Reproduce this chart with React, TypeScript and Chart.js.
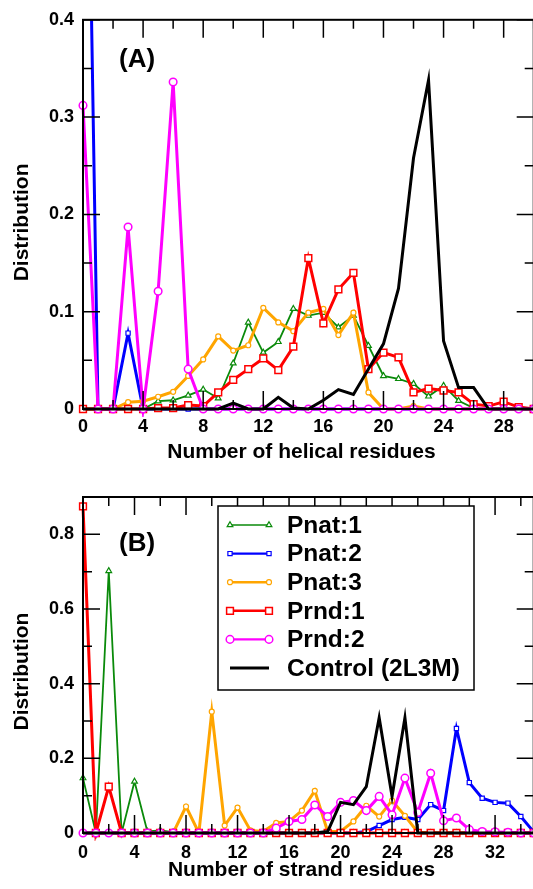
import React, { useEffect, useRef } from 'react';
import { Chart, registerables } from 'chart.js';

Chart.register(...registerables);

// ---------- data ----------
const helixResidues = [0, 1, 2, 3, 4, 5, 6, 7, 8, 9, 10, 11, 12, 13, 14, 15, 16, 17, 18, 19, 20, 21, 22, 23, 24, 25, 26, 27, 28, 29, 30];
const strandResidues = [0, 1, 2, 3, 4, 5, 6, 7, 8, 9, 10, 11, 12, 13, 14, 15, 16, 17, 18, 19, 20, 21, 22, 23, 24, 25, 26, 27, 28, 29, 30, 31, 32, 33, 34, 35];

const seriesNames = ['Pnat:1', 'Pnat:2', 'Pnat:3', 'Prnd:1', 'Prnd:2', 'Control (2L3M)'];

// Panel A: helical residues
const helixPnat1 = [0, 0, 0, 0, 0, 0.008, 0.009, 0.014, 0.020, 0.011, 0.047, 0.089, 0.058, 0.069, 0.103, 0.096, 0.099, 0.084, 0.096, 0.065, 0.034, 0.031, 0.026, 0.013, 0.024, 0.0085, 0.001, 0, 0, 0, 0];
const helixPnat2 = [0.93, 0, 0, 0.078, 0, 0, 0, 0, 0, 0, 0, 0, 0, 0, 0, 0, 0, 0, 0, 0, 0, 0, 0, 0, 0, 0, 0, 0, 0, 0, 0];
const helixPnat3 = [0, 0, 0, 0.007, 0.008, 0.0126, 0.0177, 0.034, 0.051, 0.0747, 0.060, 0.0655, 0.104, 0.089, 0.080, 0.099, 0.103, 0.076, 0.099, 0.017, 0, 0, 0.003, 0, 0, 0, 0, 0, 0, 0, 0];
const helixPrnd1 = [0, 0, 0, 0, 0, 0.001, 0.001, 0.004, 0.003, 0.017, 0.030, 0.041, 0.052, 0.040, 0.064, 0.155, 0.088, 0.123, 0.140, 0.041, 0.058, 0.053, 0.017, 0.021, 0.019, 0.017, 0.005, 0.003, 0.0075, 0.002, 0];
const helixPrnd2 = [0.312, 0, 0, 0.187, 0, 0.121, 0.336, 0.041, 0, 0, 0, 0, 0, 0, 0, 0, 0, 0, 0, 0, 0, 0, 0, 0, 0, 0, 0, 0, 0, 0, 0];
const helixControl = [0, 0, 0, 0, 0, 0, 0, 0, 0, 0, 0.006, 0, 0, 0.012, 0.001, 0, 0.009, 0.020, 0.015, 0.041, 0.067, 0.124, 0.258, 0.338, 0.070, 0.022, 0.022, 0, 0, 0, 0];

// Panel B: strand residues
const strandPnat1 = [0.147, 0, 0.702, 0, 0.138, 0.004, 0.007, 0.002, 0, 0, 0, 0, 0, 0, 0, 0, 0, 0, 0, 0, 0, 0, 0, 0, 0, 0, 0, 0, 0, 0, 0, 0, 0, 0, 0, 0];
const strandPnat2 = [0, 0, 0, 0, 0, 0, 0, 0, 0, 0, 0, 0, 0, 0, 0, 0, 0, 0, 0, 0, 0, 0, 0.004, 0.020, 0.036, 0.042, 0.036, 0.076, 0.060, 0.280, 0.135, 0.093, 0.082, 0.080, 0.044, 0.003];
const strandPnat3 = [0, 0, 0, 0, 0, 0, 0, 0, 0.071, 0, 0.325, 0.020, 0.068, 0.007, 0.004, 0.027, 0.031, 0.060, 0.113, 0.004, 0.004, 0.031, 0.073, 0.044, 0.087, 0.046, 0.002, 0, 0, 0, 0, 0, 0, 0, 0, 0];
const strandPrnd1 = [0.875, 0, 0.124, 0, 0, 0, 0, 0, 0, 0, 0, 0, 0, 0, 0, 0, 0, 0, 0, 0, 0, 0, 0, 0, 0, 0, 0, 0, 0, 0, 0, 0, 0, 0, 0, 0];
const strandPrnd2 = [0, 0, 0, 0, 0, 0, 0, 0, 0, 0, 0, 0, 0, 0, 0, 0.013, 0.031, 0.036, 0.075, 0.044, 0.082, 0.087, 0.060, 0.098, 0.049, 0.147, 0.055, 0.160, 0.033, 0.040, 0.009, 0.004, 0.003, 0.002, 0, 0];
const strandControl = [0, 0, 0, 0, 0, 0, 0, 0, 0, 0, 0, 0, 0, 0, 0, 0, 0, 0, 0, 0.004, 0.082, 0.076, 0.124, 0.309, 0.098, 0.309, 0, 0, 0, 0, 0, 0, 0, 0, 0, 0];

// ---------- styles ----------
const FONT = "'Liberation Sans', Arial, Helvetica, sans-serif";

type Style = { color: string; point: 'triangle' | 'rect' | 'circle' | false; radius: number; pointBorder: number; line: number; order: number };
const styles: Style[] = [
  { color: '#0a8a0a', point: 'triangle', radius: 3.3, pointBorder: 1.2, line: 1.8, order: 5 },
  { color: '#0000ff', point: 'rect', radius: 3.0, pointBorder: 1.2, line: 3, order: 4 },
  { color: '#ffa500', point: 'circle', radius: 2.5, pointBorder: 1.2, line: 3, order: 3 },
  { color: '#ff0000', point: 'rect', radius: 4.8, pointBorder: 1.5, line: 3, order: 2 },
  { color: '#ff00ff', point: 'circle', radius: 3.8, pointBorder: 1.5, line: 3, order: 1 },
  { color: '#000000', point: false, radius: 0, pointBorder: 0, line: 3, order: 0 },
];

type Panel = {
  xs: number[];
  series: number[][];
  canvasH: number;
  top: number;
  axisH: number;
  xMax: number;
  yMax: number;
  yStep: number;
  yMinor: number;
  xTitle: string;
  xTitleY: number;
  tickPad: number;
  label: string;
  labelBaseline: number;
  yTitleOffset: number;
  legend: boolean;
};

const CANVAS_W = 540;
const CHART_RIGHT_PAD = 2;
const X_TITLE_CENTER = 301.5;

const panelA: Panel = {
  xs: helixResidues,
  series: [helixPnat1, helixPnat2, helixPnat3, helixPrnd1, helixPrnd2, helixControl],
  canvasH: 470, top: 18, axisH: 61, xMax: 30, yMax: 0.4, yStep: 0.1, yMinor: 0.05,
  xTitle: 'Number of helical residues', xTitleY: 452.5, tickPad: 7,
  label: '(A)', labelBaseline: 66.5, yTitleOffset: 8, legend: false,
};
const panelB: Panel = {
  xs: strandResidues,
  series: [strandPnat1, strandPnat2, strandPnat3, strandPrnd1, strandPrnd2, strandControl],
  canvasH: 419, top: 27, axisH: 56, xMax: 35, yMax: 0.9, yStep: 0.2, yMinor: 0.1,
  xTitle: 'Number of strand residues', xTitleY: 400.5, tickPad: 9,
  label: '(B)', labelBaseline: 81, yTitleOffset: 6.5, legend: true,
};

function drawMarker(ctx: CanvasRenderingContext2D, style: Style, x: number, y: number) {
  if (!style.point) return;
  ctx.save();
  ctx.beginPath();
  const r = style.radius;
  if (style.point === 'circle') {
    ctx.arc(x, y, r, 0, Math.PI * 2);
  } else if (style.point === 'rect') {
    const s = Math.SQRT1_2 * r;
    ctx.rect(x - s, y - s, 2 * s, 2 * s);
  } else {
    ctx.moveTo(x, y - r);
    ctx.lineTo(x + r * 0.866, y + r * 0.5);
    ctx.lineTo(x - r * 0.866, y + r * 0.5);
    ctx.closePath();
  }
  ctx.fillStyle = '#ffffff';
  ctx.fill();
  ctx.lineWidth = style.pointBorder;
  ctx.strokeStyle = style.color;
  ctx.stroke();
  ctx.restore();
}

function makeDecor(p: Panel) {
  return {
    id: 'panelDecor',
    afterDatasetsDraw(chart: any) {
      const { ctx, chartArea } = chart;
      const { left, right, top, bottom } = chartArea;
      const xs = chart.scales.x;
      const ys = chart.scales.y;
      ctx.save();
      ctx.strokeStyle = '#000';
      ctx.lineWidth = 1.5;
      ctx.beginPath();
      // x ticks, inward, top and bottom
      for (let i = 0; i * 2 <= p.xMax + 1e-9; i++) {
        const v = i * 2;
        const px = xs.getPixelForValue(v);
        const len = v % 4 === 0 ? 18 : 9;
        ctx.moveTo(px, top);
        ctx.lineTo(px, top + len);
        ctx.moveTo(px, bottom);
        ctx.lineTo(px, bottom - len);
      }
      // y ticks, inward, left and right
      for (let i = 0; i * p.yMinor <= p.yMax + 1e-9; i++) {
        const v = i * p.yMinor;
        const py = ys.getPixelForValue(v);
        const ratio = v / p.yStep;
        const major = Math.abs(ratio - Math.round(ratio)) < 1e-6;
        const len = major ? 17 : 9;
        ctx.moveTo(left, py);
        ctx.lineTo(left + len, py);
        ctx.moveTo(right, py);
        ctx.lineTo(right - len, py);
      }
      ctx.stroke();
      ctx.lineWidth = 2;
      ctx.strokeRect(left, top, right - left, bottom - top);

      ctx.fillStyle = '#000';
      // panel label
      ctx.font = `bold 26px ${FONT}`;
      ctx.textAlign = 'left';
      ctx.textBaseline = 'alphabetic';
      ctx.fillText(p.label, 119, p.labelBaseline);

      // x title
      ctx.font = `bold 21px ${FONT}`;
      ctx.textAlign = 'center';
      ctx.textBaseline = 'middle';
      ctx.fillText(p.xTitle, X_TITLE_CENTER, p.xTitleY);

      // y title
      ctx.save();
      ctx.translate(22.5, (top + bottom) / 2 + p.yTitleOffset);
      ctx.rotate(-Math.PI / 2);
      ctx.font = `bold 21px ${FONT}`;
      ctx.textAlign = 'center';
      ctx.textBaseline = 'middle';
      ctx.fillText('Distribution', 0, 0);
      ctx.restore();

      // legend
      if (p.legend) {
        const bx = 218, by = 36, bw = 256, bh = 184;
        ctx.fillStyle = '#fff';
        ctx.fillRect(bx, by, bw, bh);
        ctx.lineWidth = 1.5;
        ctx.strokeStyle = '#000';
        ctx.strokeRect(bx, by, bw, bh);
        chart.data.datasets.forEach((ds: any, i: number) => {
          const st = styles[i];
          const cy = by + 19 + i * 28.6;
          ctx.beginPath();
          ctx.moveTo(230, cy);
          ctx.lineTo(269, cy);
          ctx.strokeStyle = st.color;
          ctx.lineWidth = st.point ? Math.max(1.4, st.line * 0.8) : 3;
          ctx.stroke();
          drawMarker(ctx, st, 230, cy);
          drawMarker(ctx, st, 269, cy);
          ctx.fillStyle = '#000';
          ctx.font = `bold 24.5px ${FONT}`;
          ctx.textAlign = 'left';
          ctx.textBaseline = 'middle';
          ctx.fillText(ds.label, 287, cy + 1);
        });
      }
      ctx.restore();
    },
  };
}

function PanelChart({ panel, top }: { panel: Panel; top: number }) {
  const ref = useRef<HTMLCanvasElement | null>(null);
  useEffect(() => {
    if (!ref.current) return;
    const datasets = panel.series.map((vals, i) => {
      const st = styles[i];
      return {
        label: seriesNames[i],
        data: panel.xs.map((x, j) => ({ x, y: vals[j] })),
        borderColor: st.color,
        backgroundColor: '#ffffff',
        borderWidth: st.line,
        pointStyle: st.point || 'circle',
        pointRadius: st.radius,
        pointBorderWidth: st.pointBorder,
        pointBorderColor: st.color,
        pointBackgroundColor: '#ffffff',
        pointHoverRadius: st.radius,
        tension: 0,
        fill: false,
        order: st.order,
        clip: { left: 8, top: 0, right: 0, bottom: 8 },
      };
    });
    const chart = new Chart(ref.current, {
      type: 'line',
      data: { datasets },
      plugins: [makeDecor(panel)],
      options: {
        responsive: false,
        animation: false,
        events: [],
        layout: { padding: { top: panel.top, right: CHART_RIGHT_PAD, left: 0, bottom: 0 } },
        plugins: { legend: { display: false }, tooltip: { enabled: false }, title: { display: false } },
        scales: {
          x: {
            type: 'linear',
            min: 0,
            max: panel.xMax,
            grid: { display: false, drawTicks: false },
            border: { display: false },
            ticks: {
              stepSize: 4,
              includeBounds: false,
              color: '#000',
              padding: panel.tickPad,
              maxRotation: 0,
              font: { family: FONT, size: 18, weight: 'bold' },
            },
            title: { display: false },
            afterFit: (scale: any) => { scale.height = panel.axisH; },
          },
          y: {
            type: 'linear',
            min: 0,
            max: panel.yMax,
            grid: { display: false, drawTicks: false },
            border: { display: false },
            ticks: {
              stepSize: panel.yStep,
              includeBounds: false,
              color: '#000',
              padding: 9,
              font: { family: FONT, size: 18, weight: 'bold' },
            },
            afterFit: (scale: any) => { scale.width = 83; },
          },
        },
      } as any,
    });
    return () => chart.destroy();
  }, [panel]);
  return (
    <canvas
      ref={ref}
      width={CANVAS_W}
      height={panel.canvasH}
      style={{ position: 'absolute', left: 0, top, width: CANVAS_W, height: panel.canvasH }}
    />
  );
}

export default function App() {
  return (
    <div style={{ position: 'fixed', left: 0, top: 0, width: 533, height: 889, overflow: 'hidden', background: '#fff' }}>
      <PanelChart panel={panelA} top={0} />
      <PanelChart panel={panelB} top={470} />
    </div>
  );
}
